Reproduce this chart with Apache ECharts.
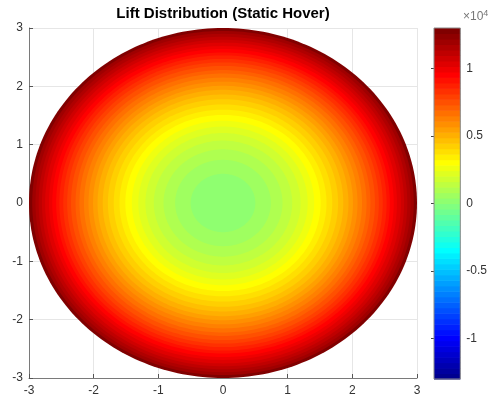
<!DOCTYPE html>
<html><head><meta charset="utf-8">
<script src="https://cdn.jsdelivr.net/npm/echarts@6/dist/echarts.min.js"></script>
<style>html,body{margin:0;padding:0;background:#fff}#c{width:490px;height:402px}</style>
</head><body><div id="c"></div>
<script>
// ---- data ----
const titleText = 'Lift Distribution (Static Hover)';
const axisTicks = [-3, -2, -1, 0, 1, 2, 3];
const colorbarTicks = [-10000, -5000, 0, 5000, 10000];
const colorLimits = [-13000, 13000];
// filled-contour bands: outer radius of each band and the lift level it is filled with
const bandRadius = [0.50, 0.74, 0.92, 1.07, 1.20, 1.31, 1.41, 1.51, 1.60, 1.69, 1.78, 1.86, 1.94, 2.01, 2.08, 2.15,
                    2.22, 2.28, 2.35, 2.41, 2.47, 2.53, 2.58, 2.64, 2.69, 2.75, 2.80, 2.85, 2.90, 2.95, 3.00];
const bandLift = [0, 420, 840, 1260, 1680, 2100, 2520, 2940, 3360, 3780, 4200, 4620, 5040, 5460, 5880, 6300,
                  6720, 7140, 7560, 7980, 8400, 8820, 9240, 9660, 10080, 10500, 10920, 11340, 11760, 12180, 12600];

// ---- jet(64) colormap ----
function jetMap(m) {
  const n = Math.ceil(m / 4);
  const u = [];
  for (let i = 1; i <= n; i++) u.push(i / n);
  for (let i = 1; i < n; i++) u.push(1);
  for (let i = n; i >= 1; i--) u.push(i / n);
  const gOff = Math.ceil(n / 2) - (m % 4 === 1 ? 1 : 0);
  const cols = [];
  for (let i = 0; i < m; i++) cols.push([0, 0, 0]);
  for (let k = 0; k < u.length; k++) {
    const g = gOff + k + 1, r = g + n, b = g - n;
    if (r >= 1 && r <= m) cols[r - 1][0] = u[k];
    if (g >= 1 && g <= m) cols[g - 1][1] = u[k];
    if (b >= 1 && b <= m) cols[b - 1][2] = u[k];
  }
  return cols.map(c => 'rgb(' + c.map(x => Math.round(x * 255)).join(',') + ')');
}
const cmap = jetMap(64);
function colorFor(v) {
  let idx = Math.floor((v - colorLimits[0]) / (colorLimits[1] - colorLimits[0]) * cmap.length);
  idx = Math.max(0, Math.min(cmap.length - 1, idx));
  return cmap[idx];
}

const bands = bandRadius.map((r, i) => [r, bandLift[i]]).sort((a, b) => b[0] - a[0]);
const cbCells = cmap.map((c, i) => {
  const step = (colorLimits[1] - colorLimits[0]) / cmap.length;
  return [colorLimits[0] + i * step, colorLimits[0] + (i + 1) * step, i];
});

const FONT = 'Liberation Sans, Arial, Helvetica, sans-serif';
const chart = echarts.init(document.getElementById('c'), null, {renderer: 'canvas'});

const mainAxis = (isX) => ({
  type: 'value', min: axisTicks[0], max: axisTicks[axisTicks.length - 1], interval: 1,
  gridIndex: 0,
  axisLine: {show: true, onZero: false, lineStyle: {color: '#7a7a7a', width: 1}},
  axisTick: {show: true, inside: true, length: 4, lineStyle: {color: '#555'}},
  axisLabel: {color: '#333', fontSize: 12, fontFamily: FONT, margin: isX ? 7 : 6},
  splitLine: {show: true, lineStyle: {color: '#e6e6e6', width: 1}}
});

chart.setOption({
  animation: false,
  backgroundColor: '#fff',
  grid: [
    {left: 29, top: 28, width: 388, height: 350},
    {left: 434, top: 28, width: 28, height: 351}
  ],
  xAxis: [
    mainAxis(true),
    {type: 'value', gridIndex: 1, min: 0, max: 1, show: false}
  ],
  yAxis: [
    mainAxis(false),
    {type: 'value', gridIndex: 1, min: colorLimits[0], max: colorLimits[1], position: 'right',
     axisLine: {show: false},
     axisTick: {show: true, inside: true, length: 3, customValues: colorbarTicks, lineStyle: {color: '#444'}},
     axisLabel: {show: true, customValues: colorbarTicks, margin: 6, color: '#333', fontSize: 12, fontFamily: FONT,
                 formatter: v => String(v / 10000)},
     splitLine: {show: false}}
  ],
  graphic: [
    {type: 'text', x: 223, y: 6, style: {text: titleText, fill: '#000', font: 'bold 15px ' + FONT,
      textAlign: 'center', textVerticalAlign: 'top'}},
    {type: 'text', x: 463, y: 9, style: {text: '×10{s|4}', fill: '#777', fontSize: 12, fontFamily: FONT,
      rich: {s: {fontSize: 9, verticalAlign: 'top', fill: '#777', fontFamily: FONT, padding: [0, 0, 7, 0]}}}}
  ],
  series: [
    {
      type: 'custom', xAxisIndex: 0, yAxisIndex: 0, data: bands, z: 1,
      renderItem(params, api) {
        const r = api.value(0), v = api.value(1);
        const pts = [];
        const N = 240;
        for (let i = 0; i < N; i++) {
          const t = i / N * 2 * Math.PI;
          pts.push(api.coord([r * Math.cos(t), r * Math.sin(t)]));
        }
        return {type: 'polygon', shape: {points: pts}, style: {fill: colorFor(v)}};
      }
    },
    {
      type: 'custom', xAxisIndex: 1, yAxisIndex: 1, data: cbCells, z: 1,
      renderItem(params, api) {
        const lo = api.value(0), hi = api.value(1), i = api.value(2);
        const p0 = api.coord([0, lo]), p1 = api.coord([1, hi]);
        const children = [{type: 'rect', shape: {x: p0[0], y: p1[1], width: p1[0] - p0[0], height: p0[1] - p1[1] + 0.6},
          style: {fill: cmap[i]}}];
        if (i === cmap.length - 1) {
          const a = api.coord([0, colorLimits[0]]), b = api.coord([1, colorLimits[1]]);
          children.push({type: 'rect', z2: 10, shape: {x: a[0], y: b[1], width: b[0] - a[0], height: a[1] - b[1]},
            style: {fill: 'none', stroke: '#8a8a8a', lineWidth: 1}});
        }
        return {type: 'group', children};
      }
    }
  ]
});
</script></body></html>
